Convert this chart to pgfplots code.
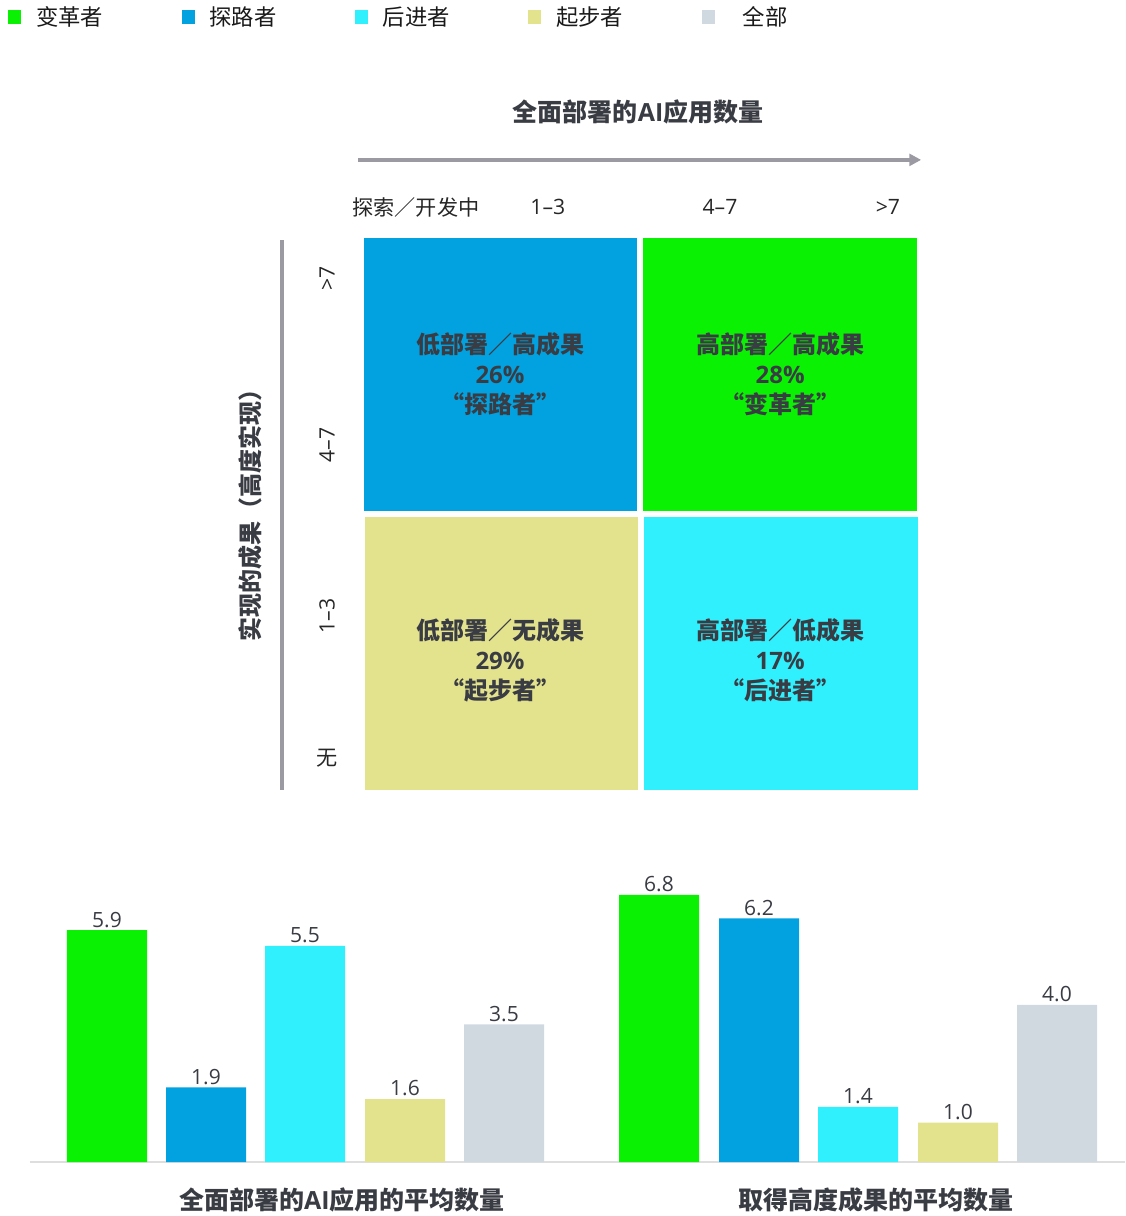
\documentclass[border=0pt]{standalone}
\usepackage{fontspec}
\setmainfont{Noto Sans CJK SC}
\newfontfamily\os{Open Sans}
\usepackage{pgfplots}
\pgfplotsset{compat=1.18}
\usetikzlibrary{arrows.meta}
\definecolor{cG}{HTML}{0BF103}
\definecolor{cB}{HTML}{02A2E0}
\definecolor{cC}{HTML}{30F0FD}
\definecolor{cK}{HTML}{E4E38D}
\definecolor{cA}{HTML}{D0D8E0}
\definecolor{txt}{HTML}{3A3C44}
\definecolor{ln}{HTML}{9B9AA3}
\begin{document}
\begin{tikzpicture}
\useasboundingbox (0,0) rectangle (675pt,729.6pt);
% ---------------- bar charts ----------------
\begin{axis}[
  at={(18pt,32.4pt)}, anchor=south west,
  scale only axis, width=657pt, height=176.85pt,
  xmin=30, xmax=1125, ymin=0, ymax=7.5,
  axis x line=bottom, axis y line=none,
  xtick=\empty, ytick=\empty,
  x axis line style={-, draw=black!13, line width=0.9pt},
  clip=false,
  /pgf/number format/.cd, fixed, fixed zerofill, precision=1, assume math mode=true,
  /pgfplots/.cd,
  every node near coord/.append style={font=\os\fontsize{12.6pt}{14pt}\selectfont, text=txt, inner sep=1.5pt},
  legend columns=5,
  legend image code/.code={\fill[#1] (0pt,-4.2pt) rectangle (7.8pt,4.2pt);},
  legend style={at={(axis description cs:-0.0201,3.8846)}, anchor=west, draw=none, fill=none,
    inner sep=0pt, font=\fontsize{13.4pt}{15pt}\selectfont, text=black!90,
    nodes={inner sep=0pt},
    /tikz/every odd column/.append style={column sep=9pt},
    /tikz/every even column/.append style={column sep=47pt}},
]
\addplot[ybar, bar shift=0pt, bar width=80, fill=cG, draw=none, nodes near coords] coordinates {(107,5.9) (659,6.8)};
\addplot[ybar, bar shift=0pt, bar width=80, fill=cB, draw=none, nodes near coords] coordinates {(206,1.9) (759,6.2)};
\addplot[ybar, bar shift=0pt, bar width=80, fill=cC, draw=none, nodes near coords] coordinates {(305,5.5) (858,1.4)};
\addplot[ybar, bar shift=0pt, bar width=80, fill=cK, draw=none, nodes near coords] coordinates {(405,1.6) (958,1.0)};
\addplot[ybar, bar shift=0pt, bar width=80, fill=cA, draw=none, nodes near coords] coordinates {(504,3.5) (1057,4.0)};
\legend{变革者,探路者,后进者,起步者,\hspace{8pt}全部}
\node[font=\bfseries\fontsize{15pt}{17pt}\selectfont, text=txt] at (axis cs:342,-0.97) {全面部署的{\os\bfseries AI}应用的平均数量};
\node[font=\bfseries\fontsize{15pt}{17pt}\selectfont, text=txt] at (axis cs:876,-0.97) {取得高度成果的平均数量};
\end{axis}
% ---------------- matrix ----------------
\begin{axis}[
  at={(218.4pt,255.6pt)}, anchor=south west,
  scale only axis, width=331.8pt, height=331.2pt,
  xmin=0, xmax=2, ymin=0, ymax=2,
  hide axis, clip=false,
]
\addplot[fill=cB, draw=none] coordinates {(0,1.011) (0.988,1.011) (0.988,2) (0,2)} --cycle;
\addplot[fill=cG, draw=none] coordinates {(1.010,1.011) (2,1.011) (2,2) (1.010,2)} --cycle;
\addplot[fill=cK, draw=none] coordinates {(0.004,0) (0.992,0) (0.992,0.989) (0.004,0.989)} --cycle;
\addplot[fill=cC, draw=none] coordinates {(1.013,0) (2.004,0) (2.004,0.989) (1.013,0.989)} --cycle;
\draw[ln, line width=2pt, -{Triangle[length=7pt,width=7pt]}] (axis cs:-0.0217,2.283) -- (axis cs:2.015,2.283);
\draw[ln, line width=2.2pt] (axis cs:-0.2966,1.993) -- (axis cs:-0.2966,0);
\node[font=\bfseries\fontsize{15pt}{17pt}\selectfont, text=txt] at (axis cs:0.991,2.457) {全面部署的{\os\bfseries AI}应用数量};
\begin{scope}[every node/.style={font=\fontsize{12.7pt}{14pt}\selectfont, text=black!85}]
\node at (axis cs:0.188,2.112) {探索／开发中};
\node at (axis cs:0.665,2.112) {\os 1–3};
\node at (axis cs:1.2875,2.112) {\os 4–7};
\node at (axis cs:1.895,2.112) {\os >7};
\node[rotate=90] at (axis cs:-0.134,1.855) {\os >7};
\node[rotate=90] at (axis cs:-0.134,1.25) {\os 4–7};
\node[rotate=90] at (axis cs:-0.134,0.630) {\os 1–3};
\node at (axis cs:-0.134,0.116) {无};
\end{scope}
\node[rotate=90, font=\bfseries\fontsize{14.4pt}{16pt}\selectfont, text=txt] at (axis cs:-0.412,1.0145) {实现的成果（高度实现）};
\begin{scope}[every node/.style={align=center, font=\bfseries\fontsize{14.4pt}{18pt}\selectfont, text=txt}]
\node at (axis cs:0.492,1.507) {低部署／高成果\\{\os\bfseries 26\%}\\“探路者”};
\node at (axis cs:1.505,1.507) {高部署／高成果\\{\os\bfseries 28\%}\\“变革者”};
\node at (axis cs:0.492,0.471) {低部署／无成果\\{\os\bfseries 29\%}\\“起步者”};
\node at (axis cs:1.505,0.471) {高部署／低成果\\{\os\bfseries 17\%}\\“后进者”};
\end{scope}
\end{axis}
\end{tikzpicture}
\end{document}
